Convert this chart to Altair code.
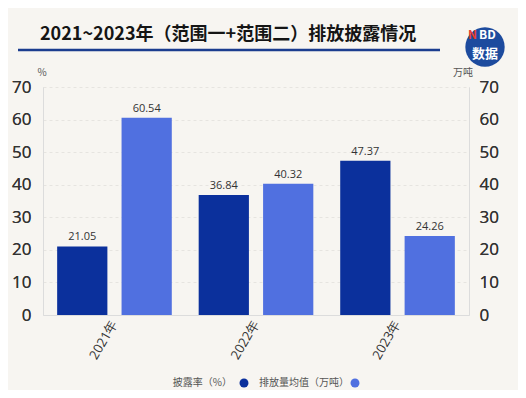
import altair as alt
import pandas as pd

years = ["2021年", "2022年", "2023年"]
series = ["披露率（%）", "排放量均值（万吨）"]
rate = [21.05, 36.84, 47.37]
emission = [60.54, 40.32, 24.26]

DARK = "#0b309c"
LIGHT = "#5070e0"
BG = "#f7f5f1"
FONT = "Noto Sans CJK SC"
NUMFONT = "Open Sans"

rows = []
for y, r, e in zip(years, rate, emission):
    rows.append({"year": y, "series": series[0], "value": r})
    rows.append({"year": y, "series": series[1], "value": e})
df = pd.DataFrame(rows)

W, H = 426, 228

xenc = alt.X("year:N", sort=years,
             scale=alt.Scale(paddingInner=0.19, paddingOuter=0.1),
             axis=alt.Axis(title=None, labelAngle=-60, labelAlign="right", labelBaseline="middle",
                           labelFontSize=13, labelColor="#333", labelFont=NUMFONT,
                           ticks=False, domainColor="#dcdcdc", labelPadding=6))
xoff = alt.XOffset("series:N", sort=series,
                   scale=alt.Scale(domain=series, paddingInner=0.22, paddingOuter=0))
ydom = alt.Scale(domain=[0, 70])

left_axis = alt.Axis(title=None, orient="left", values=list(range(0, 71, 10)), ticks=False,
                     labelFontSize=17, labelColor="#333", labelFont=NUMFONT, labelPadding=12,
                     domainColor="#dcdcdc", gridColor="#e6e4e0", gridDash=[3, 3])
right_axis = alt.Axis(title=None, orient="right", values=list(range(0, 71, 10)), ticks=False,
                      labelFontSize=17, labelColor="#333", labelFont=NUMFONT, labelPadding=10,
                      domainColor="#dcdcdc", grid=False)

base = alt.Chart(df)

bars1 = base.transform_filter(alt.datum.series == series[0]).mark_bar(color=DARK).encode(
    x=xenc, xOffset=xoff, y=alt.Y("value:Q", scale=ydom, axis=left_axis))
text1 = base.transform_filter(alt.datum.series == series[0]).mark_text(
    dy=-9, fontSize=11, color="#333", font=NUMFONT).encode(
    x=xenc, xOffset=xoff, y=alt.Y("value:Q", scale=ydom, axis=left_axis), text=alt.Text("value:Q", format=".2f"))
bars2 = base.transform_filter(alt.datum.series == series[1]).mark_bar(color=LIGHT).encode(
    x=xenc, xOffset=xoff, y=alt.Y("value:Q", scale=ydom, axis=right_axis))
text2 = base.transform_filter(alt.datum.series == series[1]).mark_text(
    dy=-9, fontSize=11, color="#333", font=NUMFONT).encode(
    x=xenc, xOffset=xoff, y=alt.Y("value:Q", scale=ydom, axis=right_axis), text=alt.Text("value:Q", format=".2f"))

one = alt.Chart(pd.DataFrame({"a": [0]}))

title = one.mark_text(text="2021~2023年（范围一+范围二）排放披露情况", fontSize=18, fontWeight="bold",
                      font=FONT, color="#151515", align="left", baseline="alphabetic").encode(
    x=alt.value(-3), y=alt.value(-47))
rule = one.mark_rule(color="#1b3d8f", strokeWidth=2.5).encode(
    x=alt.value(-25), x2=alt.value(397), y=alt.value(-37))
logo = one.mark_point(shape="circle", filled=True, color="#1d4b9e", opacity=1, size=1550).encode(
    x=alt.value(442), y=alt.value(-40))
logo_n = one.mark_text(text="N", fontSize=12, fontWeight="bold", font=FONT, color="#e8402e",
                       align="right", baseline="middle").encode(x=alt.value(434), y=alt.value(-52))
logo_bd = one.mark_text(text="BD", fontSize=12, fontWeight="bold", font=FONT, color="white",
                        align="left", baseline="middle").encode(x=alt.value(436), y=alt.value(-52))
logo_sj = one.mark_text(text="数据", fontSize=13, fontWeight="bold", font=FONT, color="white",
                        align="center", baseline="middle").encode(x=alt.value(442), y=alt.value(-33))
unit_l = one.mark_text(text="%", fontSize=10, font=FONT, color="#555").encode(
    x=alt.value(-1), y=alt.value(-14))
unit_r = one.mark_text(text="万吨", fontSize=10, font=FONT, color="#555").encode(
    x=alt.value(420), y=alt.value(-14))

leg_t1 = one.mark_text(text=series[0], fontSize=10, font=FONT, color="#555", align="right",
                       baseline="middle").encode(x=alt.value(189), y=alt.value(296))
leg_p1 = one.mark_point(shape="circle", filled=True, color=DARK, opacity=1, size=80).encode(
    x=alt.value(201), y=alt.value(296))
leg_t2 = one.mark_text(text=series[1], fontSize=10, font=FONT, color="#555", align="left",
                       baseline="middle").encode(x=alt.value(216), y=alt.value(296))
leg_p2 = one.mark_point(shape="circle", filled=True, color=LIGHT, opacity=1, size=80).encode(
    x=alt.value(312), y=alt.value(296))

chart = alt.layer(bars1, text1, bars2, text2, title, rule, logo, logo_n, logo_bd, logo_sj,
                  unit_l, unit_r, leg_t1, leg_p1, leg_t2, leg_p2).resolve_scale(
    y="independent").properties(
    width=W, height=H,
    autosize=alt.AutoSizeParams(type="none"),
    padding={"left": 35, "top": 79, "right": 49, "bottom": 75},
    background=BG,
).configure_view(stroke=None)

chart.save("out.html", embed_options={"renderer": "svg", "actions": False})
